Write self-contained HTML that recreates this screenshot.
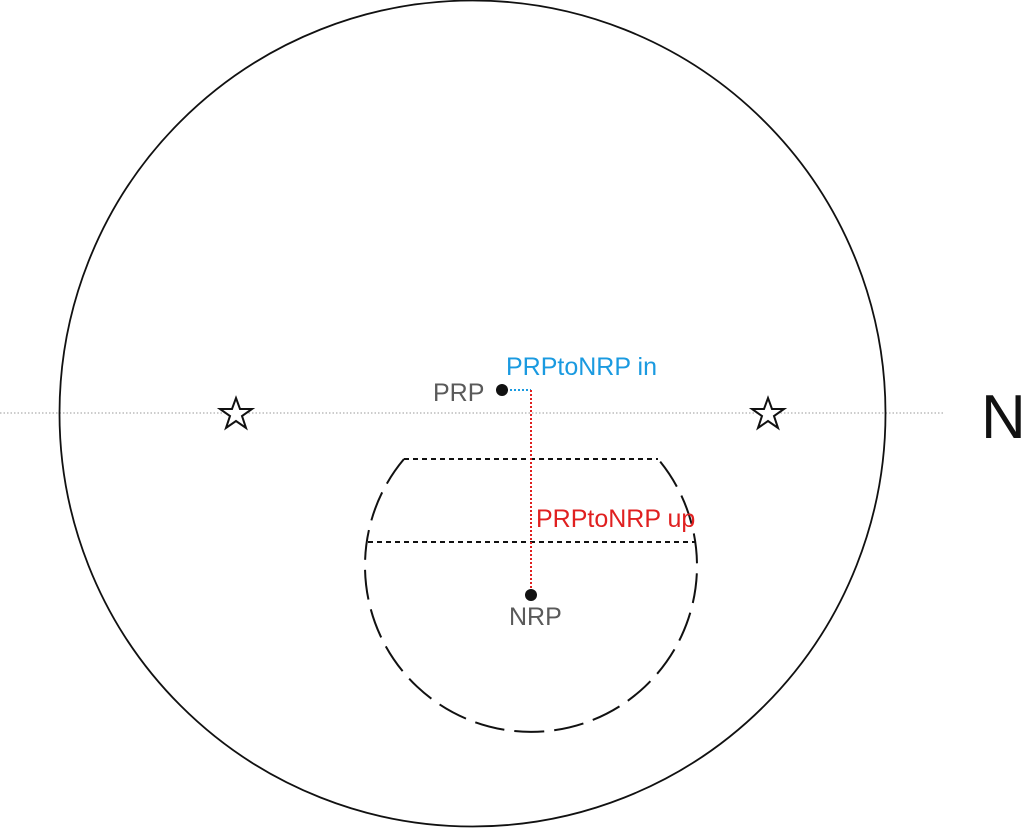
<!DOCTYPE html>
<html><head><style>html,body{margin:0;padding:0;background:#fff;}</style></head>
<body>
<svg width="1025" height="828" viewBox="0 0 1025 828" xmlns="http://www.w3.org/2000/svg" style="display:block">
<line x1="0" y1="413" x2="945" y2="413" stroke="#999" stroke-width="1" stroke-dasharray="1.5,2"/>
<circle cx="472.5" cy="413.5" r="413" fill="none" stroke="#111" stroke-width="1.8"/>
<path d="M404,459 A166,166 0 1 0 658,459" fill="none" stroke="#111" stroke-width="2" stroke-dasharray="30,10"/>
<line x1="404" y1="459" x2="658" y2="459" stroke="#111" stroke-width="2" stroke-dasharray="5,4"/>
<line x1="368" y1="542" x2="695" y2="542" stroke="#111" stroke-width="2" stroke-dasharray="5,4"/>
<line x1="502" y1="390" x2="531" y2="390" stroke="#1a9ae0" stroke-width="2" stroke-dasharray="2,2"/>
<line x1="531" y1="390" x2="531" y2="594" stroke="#e02020" stroke-width="2" stroke-dasharray="2,2"/>
<circle cx="502" cy="390" r="6" fill="#111"/>
<circle cx="531" cy="595" r="6" fill="#111"/>
<g fill="#fff" stroke="#111" stroke-width="2">
<polygon points="236,398 240,409 252,409 242,416 246,428 236,421 226,428 230,416 220,409 232,409"/>
<polygon points="768,398 772,409 784,409 774,416 778,428 768,421 758,428 762,416 752,409 764,409"/>
</g>
<g font-family="Liberation Sans, sans-serif" font-size="25">
<text x="433" y="401" fill="#5a5a5a">PRP</text>
<text x="506" y="375" fill="#1a9ae0">PRPtoNRP in</text>
<text x="536" y="527" fill="#e02020">PRPtoNRP up</text>
<text x="509" y="625" fill="#5a5a5a">NRP</text>
</g>
<text x="981" y="438" font-family="Liberation Sans, sans-serif" font-size="62" fill="#111">N</text>
</svg>
</body></html>
